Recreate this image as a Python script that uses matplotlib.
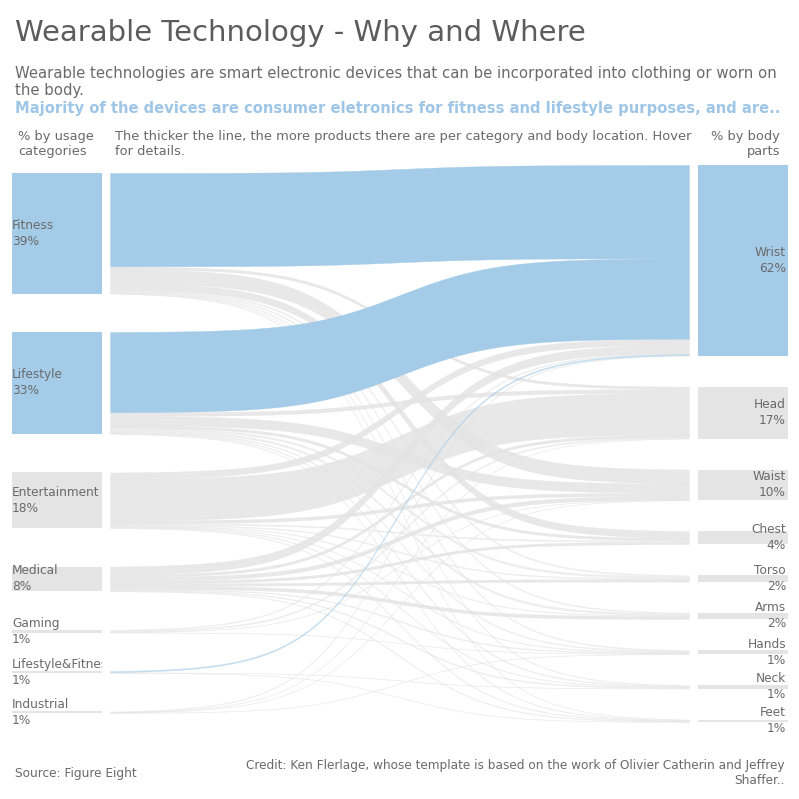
import numpy as np
import matplotlib.pyplot as plt
from matplotlib.patches import Rectangle

# usage categories (left) and body parts (right)
categories = ["Fitness", "Lifestyle", "Entertainment", "Medical", "Gaming",
              "Lifestyle&Fitness", "Industrial"]
body_parts = ["Wrist", "Head", "Waist", "Chest", "Torso", "Arms", "Hands",
              "Neck", "Feet"]

# share of products (%) per category -> body part
fitness_flows = [30.2, 0.8, 4.5, 2.2, 0.4, 0.3, 0.3, 0.2, 0.1]
lifestyle_flows = [26.0, 1.2, 3.0, 0.8, 0.6, 0.6, 0.3, 0.3, 0.2]
entertainment_flows = [2.0, 13.5, 1.0, 0.4, 0.3, 0.2, 0.2, 0.2, 0.2]
medical_flows = [2.6, 0.8, 1.2, 0.8, 0.8, 1.0, 0.3, 0.3, 0.2]
gaming_flows = [0.3, 0.4, 0.1, 0.0, 0.0, 0.0, 0.1, 0.0, 0.0]
lifefit_flows = [0.4, 0.0, 0.0, 0.0, 0.0, 0.0, 0.0, 0.1, 0.1]
industrial_flows = [0.2, 0.1, 0.1, 0.0, 0.0, 0.0, 0.1, 0.0, 0.0]

flows = np.array([fitness_flows, lifestyle_flows, entertainment_flows,
                  medical_flows, gaming_flows, lifefit_flows, industrial_flows])

highlight_cats = ["Fitness", "Lifestyle", "Lifestyle&Fitness"]
highlight_part = "Wrist"

BLUE = "#a4cbe8"
GREY = "#e4e4e4"
TXT = "#6a6a6a"

# layout (pixels)
px_per = 3.09
left_top, left_gap = 173, 38.5
right_top, right_gap = 165, 31
lx0, lx1 = 12, 102
rx0, rx1 = 698, 788
fx0, fx1 = 110, 689

cat_tot = flows.sum(axis=1)
part_tot = flows.sum(axis=0)

def node_pos(totals, top, gap):
    ys = []
    y = top
    for t in totals:
        ys.append(y)
        y += t * px_per + gap
    return ys

cat_y = node_pos(cat_tot, left_top, left_gap)
part_y = node_pos(part_tot, right_top, right_gap)

fig = plt.figure(figsize=(7.99, 7.99), dpi=100)
ax = fig.add_axes([0, 0, 1, 1])
ax.set_xlim(0, 799)
ax.set_ylim(799, 0)
ax.axis("off")

# flows, sigmoid shaped
xs = np.linspace(fx0, fx1, 200)
tt = np.linspace(-6, 6, 200)
s = 1 / (1 + np.exp(-tt))
s = (s - s[0]) / (s[-1] - s[0])

src_off = list(cat_y)
grey_bands = []
blue_bands = []
for i, c in enumerate(categories):
    for j, p in enumerate(body_parts):
        v = flows[i, j]
        if v <= 0:
            continue
        h = v * px_per
        y_s = src_off[i]
        src_off[i] += h
        blue = c in highlight_cats and p == highlight_part
        (blue_bands if blue else grey_bands).append((i, j, y_s, h))

# target offsets stacked in source order
tgt_off = list(part_y)
tgt_start = {}
for i in range(len(categories)):
    for j in range(len(body_parts)):
        if flows[i, j] > 0:
            tgt_start[(i, j)] = tgt_off[j]
            tgt_off[j] += flows[i, j] * px_per

for bands, col, z, a_big in [(grey_bands, GREY, 1, 0.85), (blue_bands, BLUE, 2, 1.0)]:
    for i, j, y_s, h in bands:
        y_t = tgt_start[(i, j)]
        top = y_s + (y_t - y_s) * s
        a = a_big if h > 2 else 0.6
        ax.fill_between(xs, top, top + h, color=col, alpha=a,
                        edgecolor=col, linewidth=0.25, zorder=z)

# nodes
clip = Rectangle((0, 0), lx1, 799, transform=ax.transData)
for i, c in enumerate(categories):
    h = cat_tot[i] * px_per
    col = BLUE if c in ["Fitness", "Lifestyle"] else GREY
    ax.add_patch(Rectangle((lx0, cat_y[i]), lx1 - lx0, h, color=col, lw=0, zorder=3))
    pct = int(cat_tot[i] / cat_tot.sum() * 100 + 0.5)
    t = ax.text(lx0, cat_y[i] + h / 2, f"{c}\n{pct}%", ha="left", va="center",
                fontsize=8.7, color=TXT, linespacing=1.3, zorder=4, clip_on=True)
    t.set_clip_path(clip)

for j, p in enumerate(body_parts):
    h = part_tot[j] * px_per
    col = BLUE if p == highlight_part else GREY
    ax.add_patch(Rectangle((rx0, part_y[j]), rx1 - rx0, h, color=col, lw=0, zorder=3))
    pct = int(part_tot[j] / part_tot.sum() * 100 + 0.5)
    ax.text(786, part_y[j] + h / 2, f"{p}\n{pct}%", ha="right", va="center",
            multialignment="right", fontsize=8.7, color=TXT, linespacing=1.3, zorder=4)

# titles and notes
ax.text(15, 33, "Wearable Technology - Why and Where", fontsize=21, color="#5c5c5c",
        va="center", ha="left")
ax.text(15, 82, "Wearable technologies are smart electronic devices that can be "
        "incorporated into clothing or worn on\nthe body.", fontsize=10.75, color=TXT,
        va="center", ha="left", linespacing=1.15)
ax.text(15, 109, "Majority of the devices are consumer eletronics for fitness and "
        "lifestyle purposes, and are..", fontsize=10.65, color="#9fc6e6",
        fontweight="bold", va="center", ha="left")
ax.text(18, 144, "% by usage\ncategories", fontsize=9.4, color=TXT, va="center",
        ha="left", linespacing=1.2)
ax.text(115, 144, "The thicker the line, the more products there are per category "
        "and body location. Hover\nfor details.", fontsize=9.4, color=TXT,
        va="center", ha="left", linespacing=1.2)
ax.text(780, 144, "% by body\nparts", fontsize=9.4, color=TXT, va="center",
        ha="right", multialignment="right", linespacing=1.2)
ax.text(15, 773, "Source: Figure Eight", fontsize=8.7, color=TXT, va="center", ha="left")
ax.text(785, 773, "Credit: Ken Flerlage, whose template is based on the work of "
        "Olivier Catherin and Jeffrey\nShaffer..", fontsize=8.7, color=TXT,
        va="center", ha="right", multialignment="right", linespacing=1.3)

fig.savefig("out.png", dpi=100, facecolor="white")
